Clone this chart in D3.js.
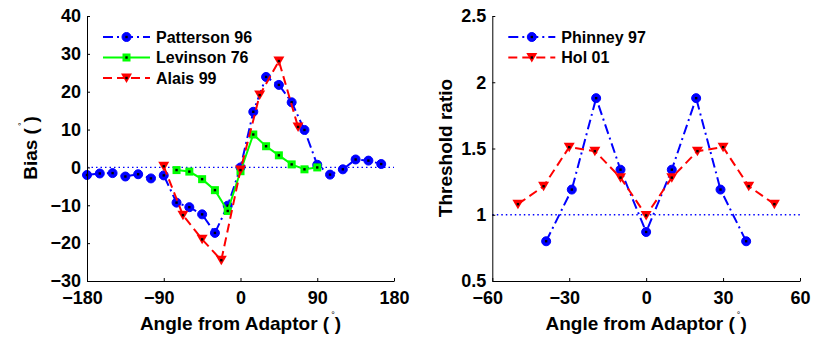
<!DOCTYPE html>
<meta charset="utf-8">
<style>
body { margin: 0; background: #fff; }
text { font-family: "Liberation Sans", Arial, sans-serif; font-weight: bold; fill: #000; }
.axis path, .axis line { stroke: #000; stroke-width: 1; }
.axis text { font-size: 18px; }
.label { font-size: 19px; }
.legend text { font-size: 16px; }
</style>
<body>
<script src="https://d3js.org/d3.v7.min.js"></script>
<script>

// left panel: bias vs angle
var pattersonAngle = [-180,-165,-150,-135,-120,-105,-90,-75,-60,-45,-30,-15,0,15,30,45,60,75,90,105,120,135,150,165];
var pattersonBias  = [-2.0,-1.6,-1.5,-2.4,-1.8,-2.9,-2.1,-9.3,-10.5,-12.4,-17.3,-10.1,0,14.7,23.9,21.8,17.2,9.9,0.7,-1.9,-0.5,2.1,1.8,0.9];
var levinsonAngle  = [-75,-60,-45,-30,-15,0,15,30,45,60,75,90];
var levinsonBias   = [-0.7,-1.1,-3.1,-6.0,-11.5,-1.0,8.7,5.6,3.2,0.8,-0.5,0.0];
var alaisAngle     = [-90,-67.5,-45,-22.5,0,22.5,45,67.5];
var alaisBias      = [0.3,-12.6,-19.0,-24.5,-0.7,19.1,28.1,10.7];

// right panel: threshold ratio vs angle
var phinneyAngle = [-39,-29,-19.5,-10,0,10,19.5,29,39];
var phinneyRatio = [0.80,1.19,1.88,1.34,0.87,1.34,1.88,1.19,0.80];
var holAngle     = [-50,-40,-30,-20,-10,0,10,20,30,40,50];
var holRatio     = [1.08,1.215,1.51,1.48,1.28,0.995,1.28,1.48,1.51,1.215,1.08];

var leftXTicks  = [-180,-90,0,90,180];
var leftYTicks  = [-30,-20,-10,0,10,20,30,40];
var rightXTicks = [-60,-30,0,30,60];
var rightYTicks = [0.5,1,1.5,2,2.5];

var leftNames  = ["Patterson 96","Levinson 76","Alais 99"];
var rightNames = ["Phinney 97","Hol 01"];

var svg = d3.select("body").append("svg")
    .attr("width", 827)
    .attr("height", 337);

function zip(xs, ys) { return xs.map(function(x, i) { return [x, ys[i]]; }); }

var styles = {
  blueDashDot: {color: "#0000ff", dash: "10,4,2,4", marker: "circle"},
  green: {color: "#00ff00", dash: null, marker: "square"},
  redDash: {color: "#ff0000", dash: "9,5", marker: "tri"}
};

function marker(g, st) {
  if (st.marker == "circle") {
    g.append("circle").attr("r", 4.5).attr("fill", st.color).attr("stroke", st.color);
  } else if (st.marker == "square") {
    g.append("rect").attr("x", -4).attr("y", -4).attr("width", 8).attr("height", 8)
        .attr("fill", st.color);
  } else {
    g.append("path").attr("d", "M-5.5,-4.5L5.5,-4.5L0,5Z").attr("fill", st.color);
  }
  g.append("rect").attr("x", -1.2).attr("y", -1.2).attr("width", 2.4).attr("height", 2.4)
      .attr("fill", "#000");
}

function panel(opt) {
  var x = d3.scaleLinear().domain(opt.xDomain).range([opt.left, opt.right]);
  var y = d3.scaleLinear().domain(opt.yDomain).range([281, 16]);
  var g = svg.append("g");

  // reference line
  g.append("line")
      .attr("x1", x(opt.xDomain[0])).attr("x2", x(opt.xDomain[1]))
      .attr("y1", y(opt.refY)).attr("y2", y(opt.refY))
      .attr("stroke", "#0000ff").attr("stroke-width", 1.3)
      .attr("stroke-dasharray", "1.5,3");

  var line = d3.line().x(function(d) { return x(d[0]); }).y(function(d) { return y(d[1]); });

  opt.series.forEach(function(s) {
    var pts = zip(s.xs, s.ys);
    g.append("path").datum(pts)
        .attr("d", line)
        .attr("fill", "none")
        .attr("stroke", s.style.color)
        .attr("stroke-width", 2)
        .attr("stroke-dasharray", s.style.dash);
    g.selectAll(null).data(pts).enter().append("g")
        .attr("transform", function(d) { return "translate(" + x(d[0]) + "," + y(d[1]) + ")"; })
        .each(function() { marker(d3.select(this), s.style); });
  });

  // axes
  g.append("g").attr("class", "axis")
      .attr("transform", "translate(0,281)")
      .call(d3.axisBottom(x).tickValues(opt.xTicks).tickSizeInner(-3).tickSizeOuter(0).tickPadding(10))
      .selectAll("text").attr("dx", function(d) { return d < 0 ? -5 : 0; });
  g.append("g").attr("class", "axis")
      .attr("transform", "translate(" + opt.left + ",0)")
      .call(d3.axisLeft(y).tickValues(opt.yTicks).tickSizeInner(-3).tickSizeOuter(0).tickPadding(6)
          .tickFormat(opt.yFormat));

  // legend
  var leg = g.append("g").attr("class", "legend");
  opt.series.forEach(function(s, i) {
    var ly = 37 + i * 20.5;
    var lx = opt.left + 16;
    leg.append("line").attr("x1", lx).attr("x2", lx + 47).attr("y1", ly).attr("y2", ly)
        .attr("stroke", s.style.color).attr("stroke-width", 2)
        .attr("stroke-dasharray", s.style.dash);
    var m = leg.append("g").attr("transform", "translate(" + (lx + 23.5) + "," + ly + ")");
    marker(m, s.style);
    leg.append("text").attr("x", lx + 53).attr("y", ly).attr("dy", "0.36em").text(s.name);
  });

  // x label
  var xl = g.append("text").attr("class", "label")
      .attr("x", (opt.left + opt.right) / 2).attr("y", 330)
      .attr("text-anchor", "middle");
  xl.append("tspan").text("Angle from Adaptor (");
  xl.append("tspan").attr("dy", -12).attr("dx", 2).style("font-size", "9px").style("font-weight", "normal").text("°");
  xl.append("tspan").attr("dy", 12).attr("dx", 0).text(")");

  // y label
  var yl = g.append("text").attr("class", "label")
      .attr("transform", "translate(" + opt.yLabelX + ",148) rotate(-90)")
      .attr("text-anchor", "middle");
  if (opt.yDeg) {
    yl.append("tspan").text(opt.yLabel + " (");
    yl.append("tspan").attr("dy", -12).attr("dx", 2).style("font-size", "9px").style("font-weight", "normal").text("°");
    yl.append("tspan").attr("dy", 12).text(")");
  } else {
    yl.text(opt.yLabel);
  }
}

panel({
  left: 87, right: 394,
  xDomain: [-180, 180], yDomain: [-30, 40],
  xTicks: leftXTicks, yTicks: leftYTicks,
  yFormat: d3.format("d"),
  refY: 0,
  yLabel: "Bias", yDeg: true, yLabelX: 37,
  series: [
    {name: leftNames[0], xs: pattersonAngle, ys: pattersonBias, style: styles.blueDashDot},
    {name: leftNames[1], xs: levinsonAngle, ys: levinsonBias, style: styles.green},
    {name: leftNames[2], xs: alaisAngle, ys: alaisBias, style: styles.redDash}
  ]
});

panel({
  left: 492.3, right: 800,
  xDomain: [-60, 60], yDomain: [0.5, 2.5],
  xTicks: rightXTicks, yTicks: rightYTicks,
  yFormat: d3.format("~g"),
  refY: 1,
  yLabel: "Threshold ratio", yDeg: false, yLabelX: 451.5,
  series: [
    {name: rightNames[0], xs: phinneyAngle, ys: phinneyRatio, style: styles.blueDashDot},
    {name: rightNames[1], xs: holAngle, ys: holRatio, style: styles.redDash}
  ]
});

</script>
